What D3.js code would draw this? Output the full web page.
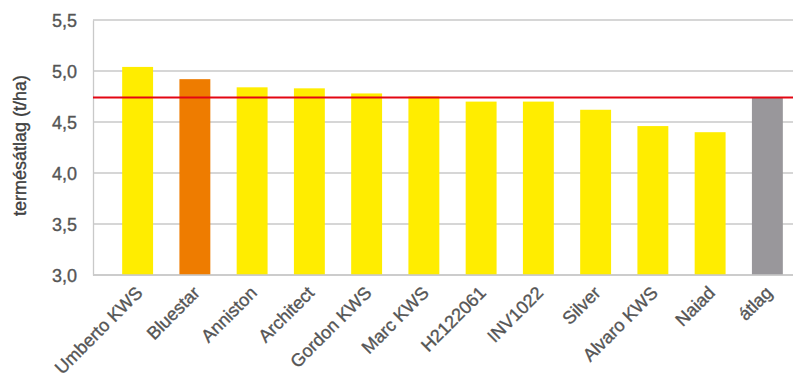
<!DOCTYPE html>
<html><head><meta charset="utf-8">
<script src="https://cdn.jsdelivr.net/npm/d3@7"></script>
<style>body{margin:0;background:#fff}svg{display:block}</style>
</head><body>
<svg id="c" width="793" height="382"></svg>
<script>
const categories = ["Umberto KWS","Bluestar","Anniston","Architect","Gordon KWS","Marc KWS","H2122061","INV1022","Silver","Alvaro KWS","Naiad","átlag"];
const values = [5.04,4.92,4.84,4.83,4.78,4.75,4.70,4.70,4.62,4.46,4.40,4.74];
const barKinds = ["variety","highlight","variety","variety","variety","variety","variety","variety","variety","variety","variety","average"];
const averageLine = 4.74;
const yTicks = [3.0,3.5,4.0,4.5,5.0,5.5];
const yTitle = "termésátlag (t/ha)";

(function(){
const colors = {variety:"#FFED00", highlight:"#EE7C00", average:"#99979B"};
const svg = d3.select("#c");
const mL = 93, mR = 793, mT = 20, mB = 275;
const font = "Liberation Sans, Arial, sans-serif";
const txt = "#555555";
const y = d3.scaleLinear().domain([3.0,5.5]).range([mB, mT]);
const x = d3.scaleBand().domain(categories).range([109, 796]).paddingInner(0.46).paddingOuter(0.23);
const fmt = v => d3.format(".1f")(v).replace(".", ",");

svg.append("g").selectAll("line").data(yTicks).join("line")
  .attr("x1", mL).attr("x2", mR)
  .attr("y1", d => y(d)).attr("y2", d => y(d))
  .attr("stroke", "#c9c9c9").attr("stroke-width", 1.3);

const yAxis = svg.append("g").attr("transform", `translate(${mL},0)`)
  .call(d3.axisLeft(y).tickValues(yTicks).tickFormat(fmt).tickSize(0).tickPadding(16));
yAxis.select(".domain").attr("stroke", "#c9c9c9").attr("stroke-width", 1.3);
yAxis.selectAll("text").attr("font-family", font)
  .attr("font-size", 18).attr("fill", txt).attr("stroke", txt).attr("stroke-width", 0.35).attr("dy", "0.35em");

svg.append("g").selectAll("rect").data(categories).join("rect")
  .attr("x", d => x(d)).attr("width", x.bandwidth())
  .attr("y", (d,i) => y(values[i])).attr("height", (d,i) => mB - y(values[i]))
  .attr("fill", (d,i) => colors[barKinds[i]]);

const xAxis = svg.append("g").attr("transform", `translate(0,${mB})`)
  .call(d3.axisBottom(x).tickSize(0).tickPadding(0));
xAxis.select(".domain").remove();
svg.append("line").attr("x1", mL).attr("x2", mR).attr("y1", mB).attr("y2", mB)
  .attr("stroke", "#c9c9c9").attr("stroke-width", 1.3);
xAxis.selectAll("text")
  .attr("font-family", font)
  .attr("font-size", 18).attr("fill", txt).attr("stroke", txt).attr("stroke-width", 0.35)
  .attr("text-anchor", "end").attr("dy", 0).attr("y", 0)
  .attr("transform", "translate(6,19) rotate(-45)");

svg.append("line").attr("x1", mL).attr("x2", mR)
  .attr("y1", y(averageLine)).attr("y2", y(averageLine))
  .attr("stroke", "#E30613").attr("stroke-width", 2);

svg.append("text").attr("transform", `translate(26,${(mT+mB)/2-2}) rotate(-90)`)
  .attr("text-anchor", "middle").attr("font-family", font)
  .attr("font-size", 18).attr("fill", "#404040").attr("stroke", "#404040").attr("stroke-width", 0.35).text(yTitle);
})();
</script>
</body></html>
